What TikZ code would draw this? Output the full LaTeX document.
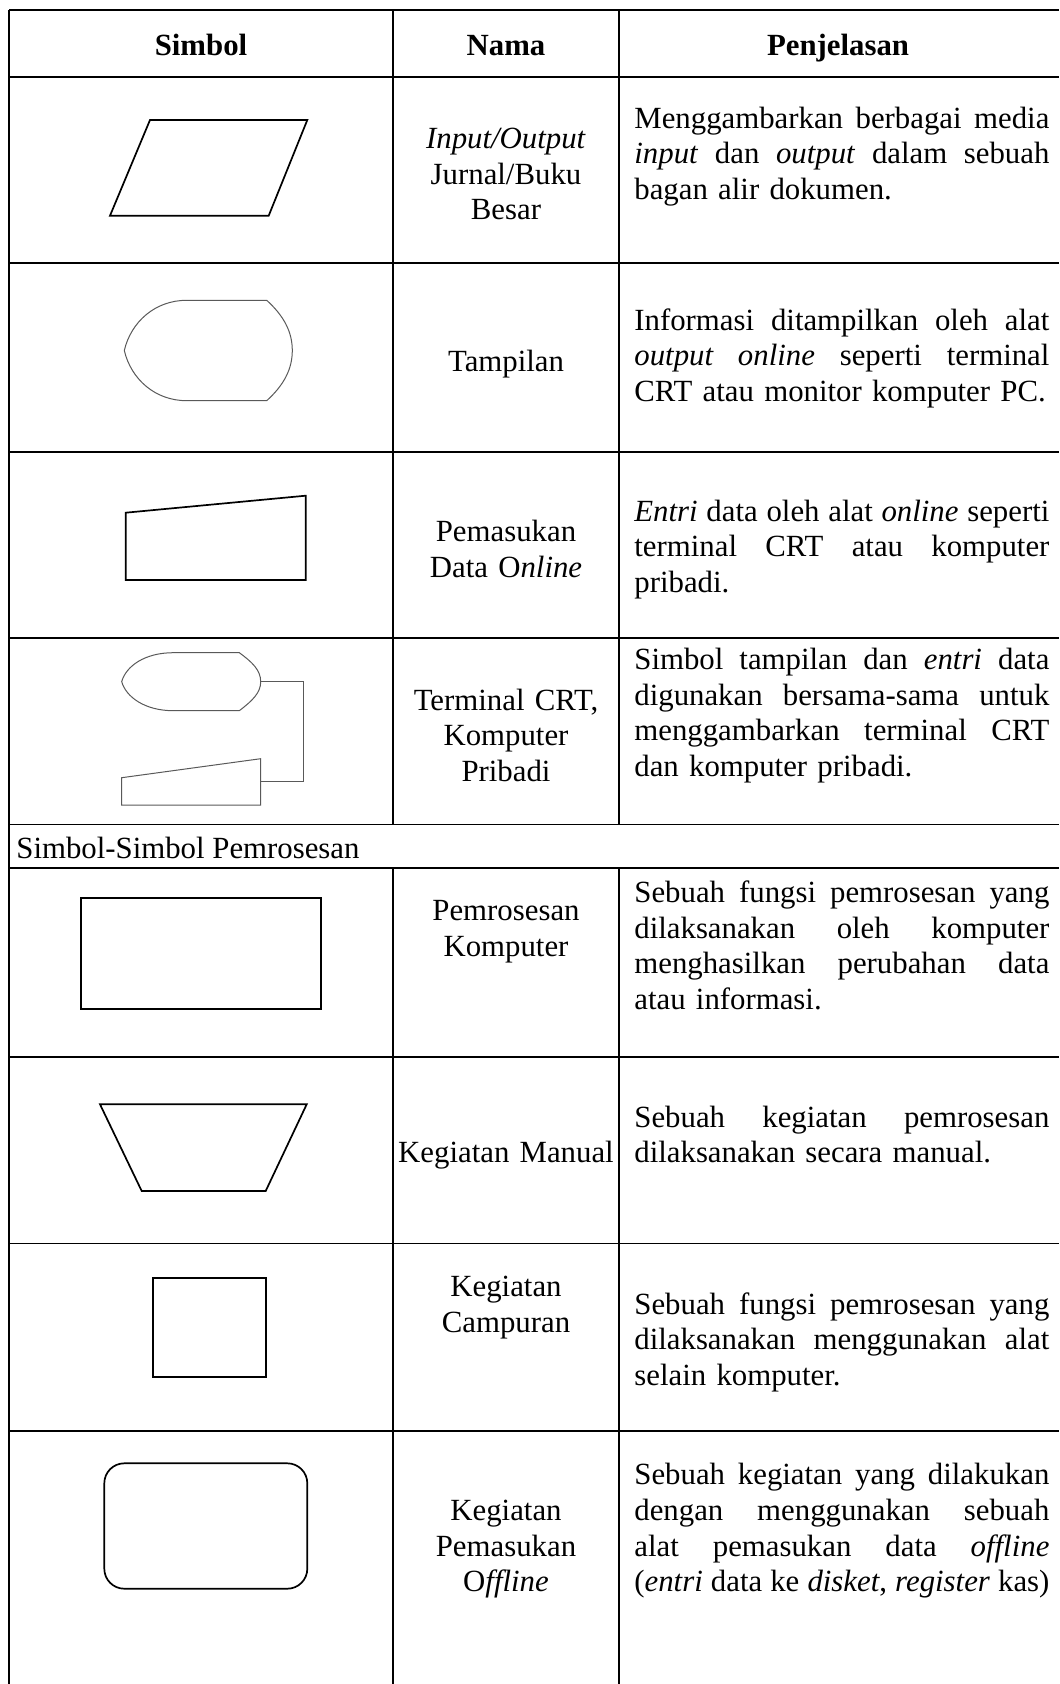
\documentclass[tikz,border=0pt]{standalone}
\usepackage{fontspec}
\setmainfont{Liberation Serif}
\newlength\dw
\setlength\dw{207.5pt}
% a fully justified line of the description column (stretchable word spaces)
\newcommand\jl[1]{{\spaceskip=0pt\xspaceskip=0pt\makebox[\dw][s]{#1}}}
\begin{document}
\begin{tikzpicture}[x=0.5pt,y=-0.5pt,
  txt/.style={font=\fontsize{15.4}{17.8}\selectfont, inner sep=0pt, yshift=-3.9pt},
  desc/.style={txt, text width=\dw, align=left, anchor=mid west},
  nama/.style={txt, text width=112pt, align=center, anchor=mid},
  head/.style={txt, font=\fontsize{15.4}{17.8}\selectfont\bfseries, anchor=mid},
  grid/.style={line width=0.85pt},
  sym/.style={line width=0.85pt, line join=miter},
  symthin/.style={line width=0.5pt, draw=black!65}]
\useasboundingbox (0,0) rectangle (1059,1684);

% table rules
\foreach \y in {10,76.7,263,451.7,638.3,824.5,868.3,1056.7,1243.5,1431}
  \draw[grid] (9,\y) -- (1059,\y);
\draw[grid] (9,10) -- (9,1684);
\foreach \x in {393,619} {
  \draw[grid] (\x,10) -- (\x,824.5);
  \draw[grid] (\x,868.3) -- (\x,1684);
}

% header
\node[head] (h1) at (201,43) {Simbol};
\node[head] (h2) at (506,43) {Nama};
\node[head] (h3) at (838,43) {Penjelasan};

% input/output
\draw[sym] (150,120) -- (307.3,120) -- (268.7,215.7) -- (110,215.7) -- cycle;
\node[nama] (n1) at (506,136.4) {\textit{Input/Output}\\Jurnal/Buku\\Besar};
\node[desc] (d1) at (634,116) {\jl{Menggambarkan berbagai media}\\\jl{\textit{input} dan \textit{output} dalam sebuah}\\bagan alir dokumen.};

% display
\draw[symthin] (186.7,300.3) -- (266.7,300.3)
  .. controls (284,316) and (292.3,332) .. (292.3,350.5)
  .. controls (292.3,369) and (284,385) .. (266.7,400.7)
  -- (186.7,400.7)
  .. controls (155,400.7) and (131,379) .. (124.3,350.5)
  .. controls (131,322) and (155,300.3) .. cycle;
\node[nama] (n2) at (506,358.7) {Tampilan};
\node[desc] (d2) at (634,318) {\jl{Informasi ditampilkan oleh alat}\\\jl{\textit{output online} seperti terminal}\\CRT atau monitor komputer PC.};

% online data entry
\draw[sym] (125.7,512.7) -- (305.7,495.7) -- (305.7,580) -- (125.7,580) -- cycle;
\node[nama] (n3) at (506,529.5) {Pemasukan\\Data O\textit{nline}};
\node[desc] (d3) at (634,509) {\jl{\textit{Entri} data oleh alat \textit{online} seperti}\\\jl{terminal CRT atau komputer}\\pribadi.};

% CRT terminal: display joined to data entry
\draw[symthin] (173.3,652.7) -- (239.3,652.7)
  .. controls (252,662) and (260.7,670) .. (260.7,681.7)
  .. controls (260.7,693) and (252,701) .. (239.3,710.7)
  -- (173.3,710.7)
  .. controls (145,710.7) and (126,697) .. (121.7,681.7)
  .. controls (126,666) and (145,652.7) .. cycle;
\draw[symthin] (121.7,777.7) -- (260.7,758.7) -- (260.7,805) -- (121.7,805) -- cycle;
\coordinate (crtA) at (260.7,681.7);
\coordinate (crtB) at (260.7,781.7);
\draw[symthin] (crtA) -- ++(42.6,0) |- (crtB);
\node[nama] (n4) at (506,698) {Terminal CRT,\\Komputer\\Pribadi};
\node[desc] (d4) at (634,657.3) {\jl{Simbol tampilan dan \textit{entri} data}\\\jl{digunakan bersama-sama untuk}\\\jl{menggambarkan terminal CRT}\\dan komputer pribadi.};

% section title
\node[txt, anchor=mid west] (sec) at (16,846) {Simbol-Simbol Pemrosesan};

% computer processing
\draw[sym] (81,897.7) rectangle (321.3,1008.7);
\node[nama] (n5) at (506,908.6) {Pemrosesan\\Komputer};
\node[desc] (d5) at (634,890.3) {\jl{Sebuah fungsi pemrosesan yang}\\\jl{dilaksanakan oleh komputer}\\\jl{menghasilkan perubahan data}\\atau informasi.};

% manual operation
\draw[sym] (100,1104.3) -- (306.7,1104.3) -- (265.7,1191) -- (141.7,1191) -- cycle;
\node[nama] (n6) at (506,1150) {Kegiatan Manual};
\node[desc] (d6) at (634,1114.8) {\jl{Sebuah kegiatan pemrosesan}\\dilaksanakan secara manual.};

% auxiliary operation
\draw[sym] (153.3,1278.3) rectangle (266,1376.7);
\node[nama] (n7) at (506,1284.5) {Kegiatan\\Campuran};
\node[desc] (d7) at (634,1301.7) {\jl{Sebuah fungsi pemrosesan yang}\\\jl{dilaksanakan menggunakan alat}\\selain komputer.};

% offline keying operation
\draw[sym, rounded corners=10pt] (104.3,1463.3) rectangle (307.3,1588.7);
\node[nama] (n8) at (506,1508) {Kegiatan\\Pemasukan\\O\textit{ffline}};
\node[desc] (d8) at (634,1472.5) {\jl{Sebuah kegiatan yang dilakukan}\\\jl{dengan menggunakan sebuah}\\\jl{alat pemasukan data \textit{offline}}\\\jl{(\textit{entri} data ke \textit{disket}, \textit{register} kas)}};
\end{tikzpicture}
\end{document}
